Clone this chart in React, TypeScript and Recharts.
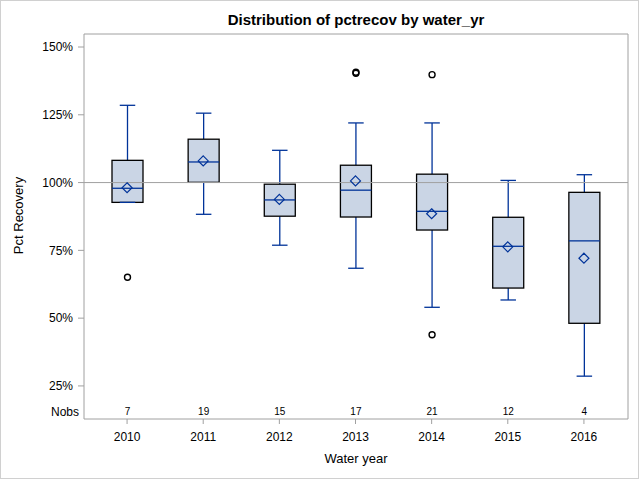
import React from "react";
import { ComposedChart, Bar, Scatter, XAxis, YAxis, ReferenceLine } from "recharts";

const years = ["2010", "2011", "2012", "2013", "2014", "2015", "2016"];
const whiskerLow = [92.7, 88.3, 76.9, 68.4, 54.0, 56.7, 28.6];
const q1s = [92.7, 100.1, 87.6, 87.3, 82.5, 61.1, 48.1];
const medians = [97.9, 107.6, 93.6, 97.2, 89.4, 76.5, 78.5];
const q3s = [108.2, 116.0, 99.4, 106.4, 103.1, 87.2, 96.4];
const whiskerHigh = [128.5, 125.6, 111.9, 122.0, 122.0, 100.8, 102.9];
const means = [98.1, 108.0, 93.8, 100.6, 88.5, 76.3, 72.1];
const nobs = [7, 19, 15, 17, 21, 12, 4];
const outliers = [[65.1], [], [], [140.3, 140.7], [139.8, 43.9], [], []];
const yTicks = [25, 50, 75, 100, 125, 150];

const Y_MIN = 12.8;
const Y_MAX = 154.8;
const FONT = "'Liberation Sans', Arial, sans-serif";
const BLUE = "#003399";
const FRAME = "#a0a0a0";

const data = years.map((year, i) => ({
  year,
  range: [whiskerLow[i], whiskerHigh[i]],
  low: whiskerLow[i],
  q1: q1s[i],
  median: medians[i],
  q3: q3s[i],
  high: whiskerHigh[i],
  mean: means[i],
  nobs: nobs[i],
  outliers: outliers[i],
}));

function BoxShape(props: any) {
  const { x, y, width, height } = props;
  const p = props.payload ?? props;
  if (x == null || y == null || p == null) return null;
  const top = Math.min(y, y + height);
  const h = Math.abs(height);
  const k = h / (p.high - p.low);
  const yOf = (v: number) => top + (p.high - v) * k;
  const cx = x + width / 2;
  const cap = width / 4;
  return (
    <g>
      <line x1={cx} x2={cx} y1={yOf(p.high)} y2={yOf(p.q3)} stroke={BLUE} strokeWidth={1.3} />
      <line x1={cx} x2={cx} y1={yOf(p.q1)} y2={yOf(p.low)} stroke={BLUE} strokeWidth={1.3} />
      <rect
        x={x}
        y={yOf(p.q3)}
        width={width}
        height={yOf(p.q1) - yOf(p.q3)}
        fill="#cad5e5"
        stroke="#000"
        strokeWidth={1.3}
      />
      <line x1={x} x2={x + width} y1={yOf(p.median)} y2={yOf(p.median)} stroke={BLUE} strokeWidth={1.3} />
      <line x1={cx - cap} x2={cx + cap} y1={yOf(p.high)} y2={yOf(p.high)} stroke={BLUE} strokeWidth={1.3} />
      <line x1={cx - cap} x2={cx + cap} y1={yOf(p.low)} y2={yOf(p.low)} stroke={BLUE} strokeWidth={1.3} />
      {p.outliers.map((v: number, j: number) => (
        <circle key={j} cx={cx} cy={yOf(v)} r={3} fill="none" stroke="#000" strokeWidth={1.4} />
      ))}
      <text
        x={cx}
        y={yOf(Y_MIN) - 4}
        textAnchor="middle"
        fontSize={10}
        fontFamily={FONT}
        fill="#000"
      >
        {p.nobs}
      </text>
    </g>
  );
}

function Diamond(props: any) {
  const { cx, cy } = props;
  if (cx == null || cy == null) return null;
  const s = 5;
  return (
    <path
      d={`M${cx},${cy - s}L${cx + s},${cy}L${cx},${cy + s}L${cx - s},${cy}Z`}
      fill="none"
      stroke={BLUE}
      strokeWidth={1.2}
    />
  );
}

function TitleLabel(props: any) {
  const vb = props.viewBox || {};
  return (
    <text
      x={vb.x + vb.width / 2}
      y={vb.y + vb.height - 9}
      textAnchor="middle"
      fontSize={15}
      fontWeight="bold"
      fontFamily={FONT}
      fill="#000"
    >
      Distribution of pctrecov by water_yr
    </text>
  );
}

function XTitle(props: any) {
  const vb = props.viewBox || {};
  return (
    <text x={vb.x + vb.width / 2} y={vb.y + 44} textAnchor="middle" fontSize={13} fontFamily={FONT} fill="#000">
      Water year
    </text>
  );
}

function YTitle(props: any) {
  const vb = props.viewBox || {};
  const cy = vb.y + vb.height / 2 - 11;
  const bottom = vb.y + vb.height;
  return (
    <g>
      <text
        x={23}
        y={cy}
        transform={`rotate(-90, 23, ${cy})`}
        textAnchor="middle"
        fontSize={13}
        fontFamily={FONT}
        fill="#000"
      >
        Pct Recovery
      </text>
      <text x={vb.x + vb.width - 5} y={bottom - 3} textAnchor="end" fontSize={12} fontFamily={FONT} fill="#000">
        Nobs
      </text>
    </g>
  );
}

export default function App() {
  return (
    <div style={{ position: "absolute", left: 0, top: 0, width: 640, height: 480, background: "#fff" }}>
      <ComposedChart
        width={640}
        height={480}
        data={data}
        margin={{ top: 33, right: 11, left: 0, bottom: 0 }}
      >
        <ReferenceLine y={100} stroke={FRAME} strokeWidth={1} />
        <XAxis
          dataKey="year"
          type="category"
          height={61}
          padding={{ left: 5, right: 6 }}
          tickSize={5}
          tickMargin={8}
          axisLine={{ stroke: FRAME }}
          tickLine={{ stroke: FRAME }}
          tick={{ fill: "#000", fontSize: 12, fontFamily: FONT }}
          label={<XTitle />}
        />
        <XAxis
          xAxisId="top"
          dataKey="year"
          orientation="top"
          height={1}
          tick={false}
          tickLine={false}
          axisLine={{ stroke: FRAME }}
          label={<TitleLabel />}
        />
        <YAxis
          type="number"
          domain={[Y_MIN, Y_MAX]}
          ticks={yTicks}
          allowDataOverflow
          width={84}
          tickSize={6}
          tickMargin={5}
          tickFormatter={(v: number) => `${v}%`}
          axisLine={{ stroke: FRAME }}
          tickLine={{ stroke: FRAME }}
          tick={{ fill: "#000", fontSize: 12, fontFamily: FONT }}
          label={<YTitle />}
        />
        <YAxis
          yAxisId="right"
          orientation="right"
          type="number"
          domain={[Y_MIN, Y_MAX]}
          width={1}
          tick={false}
          tickLine={false}
          axisLine={{ stroke: FRAME }}
        />
        <Bar dataKey="range" barSize={31} shape={BoxShape} isAnimationActive={false} />
        <Scatter dataKey="mean" shape={Diamond} isAnimationActive={false} />
      </ComposedChart>
      <div
        style={{
          position: "absolute",
          left: 0,
          top: 0,
          width: 639,
          height: 479,
          border: "1px solid #d0d0d0",
          boxSizing: "border-box",
          pointerEvents: "none",
        }}
      />
    </div>
  );
}
